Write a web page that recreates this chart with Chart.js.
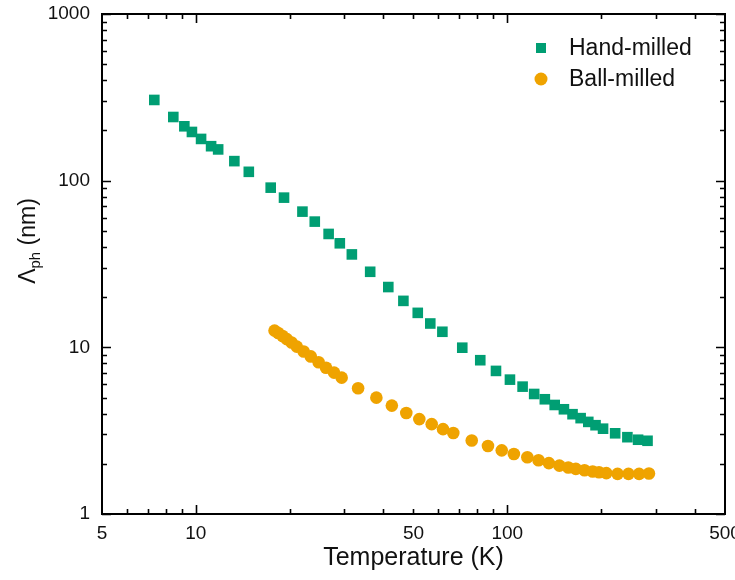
<!DOCTYPE html>
<html>
<head>
<meta charset="utf-8">
<script src="https://cdn.jsdelivr.net/npm/chart.js@4.4.1/dist/chart.umd.min.js"></script>
<style>
  html, body { margin: 0; padding: 0; background: #ffffff; }
  #wrap { width: 735px; height: 580px; }
</style>
</head>
<body>
<div id="wrap"><canvas id="c" width="735" height="580"></canvas></div>
<script>
// Phonon mean free path vs temperature for two milling routes
const handTemp = [7.36, 8.47, 9.19, 9.72, 10.4, 11.2, 11.8, 13.3, 14.8, 17.4,
  19.2, 22.0, 24.1, 26.7, 29.0, 31.7, 36.3, 41.5, 46.4, 51.6,
  56.6, 61.9, 71.7, 81.9, 92.0, 102, 112, 122, 132, 142,
  152, 162, 172, 182, 192, 203, 222, 243, 263, 282];
const handMfp = [305, 241, 212, 196, 178, 161, 154, 131, 113, 90.8,
  79.1, 65.2, 56.8, 47.9, 42.1, 36.1, 28.4, 23.0, 19.0, 16.1,
  13.9, 12.4, 9.95, 8.37, 7.22, 6.40, 5.81, 5.25, 4.88, 4.51,
  4.25, 3.97, 3.76, 3.57, 3.41, 3.25, 3.05, 2.89, 2.79, 2.75];

const ballTemp = [17.9, 18.4, 19.0, 19.6, 20.3, 21.1, 22.2, 23.4, 24.8, 26.2, 27.8, 29.4,
  33.2, 38.0, 42.6, 47.4, 52.2, 57.2, 62.2, 67.1,
  76.9, 86.7, 96.0, 105, 116, 126, 136, 147, 157, 166,
  177, 188, 197, 208, 226, 245, 265, 285];
const ballMfp = [12.6, 12.2, 11.7, 11.2, 10.7, 10.1, 9.45, 8.82, 8.14, 7.55, 7.05, 6.58,
  5.68, 4.99, 4.47, 4.04, 3.71, 3.46, 3.23, 3.06,
  2.76, 2.56, 2.41, 2.29, 2.19, 2.10, 2.02, 1.95, 1.90, 1.865,
  1.83, 1.80, 1.78, 1.76, 1.74, 1.74, 1.74, 1.75];

const seriesNames = ['Hand-milled', 'Ball-milled'];

// Axis ticks
const xLabelTicks = [5, 10, 50, 100, 500];
const xMajorTicks = [10, 100];
const xMinorTicks = [6, 7, 8, 9, 20, 30, 40, 50, 60, 70, 80, 90, 200, 300, 400];
const yLabelTicks = [1, 10, 100, 1000];
const yMinorTicks = [2, 3, 4, 5, 6, 7, 8, 9, 20, 30, 40, 50, 60, 70, 80, 90, 200, 300, 400, 500, 600, 700, 800, 900];

const GREEN = '#009E73';
const ORANGE = '#EFA300';
const FONT = "'Liberation Sans', Arial, sans-serif";

const toPoints = (xs, ys) => xs.map((x, i) => ({ x: x, y: ys[i] }));

// Closed frame with inward ticks on all four sides
const framePlugin = {
  id: 'frame',
  afterDraw(chart) {
    const ctx = chart.ctx;
    const a = chart.chartArea;
    const xs = chart.scales.x, ys = chart.scales.y;
    ctx.save();
    ctx.strokeStyle = '#000';
    ctx.lineWidth = 2;
    ctx.strokeRect(a.left, a.top, a.right - a.left, a.bottom - a.top);
    ctx.lineWidth = 1.6;
    ctx.beginPath();
    const xt = (v, len) => {
      const p = Math.round(xs.getPixelForValue(v)) + 0.5;
      ctx.moveTo(p, a.bottom); ctx.lineTo(p, a.bottom - len);
      ctx.moveTo(p, a.top); ctx.lineTo(p, a.top + len);
    };
    const yt = (v, len) => {
      const p = Math.round(ys.getPixelForValue(v)) + 0.5;
      ctx.moveTo(a.left, p); ctx.lineTo(a.left + len, p);
      ctx.moveTo(a.right, p); ctx.lineTo(a.right - len, p);
    };
    xMajorTicks.forEach(v => xt(v, 9));
    xMinorTicks.forEach(v => xt(v, 5));
    yLabelTicks.forEach(v => yt(v, 9));
    yMinorTicks.forEach(v => yt(v, 5));
    ctx.stroke();

    // Legend inside the plot
    const ds = chart.data.datasets;
    ctx.font = '23px ' + FONT;
    ctx.textBaseline = 'middle';
    ctx.textAlign = 'left';
    const lx = 541, ly = [48, 79];
    ds.forEach((d, i) => {
      ctx.fillStyle = d.backgroundColor;
      if (d.pointStyle === 'rect') {
        ctx.fillRect(lx - 5, ly[i] - 5, 10, 10);
      } else {
        ctx.beginPath();
        ctx.arc(lx, ly[i], 6.5, 0, Math.PI * 2);
        ctx.fill();
      }
      ctx.fillStyle = '#111';
      ctx.fillText(d.label, 569, ly[i] + 1);
    });

    // Y axis title with subscript
    ctx.save();
    ctx.translate(27, 241);
    ctx.rotate(-Math.PI / 2);
    ctx.fillStyle = '#111';
    ctx.textBaseline = 'alphabetic';
    const big = '23px ' + FONT, small = '15px ' + FONT;
    ctx.font = big; const w1 = ctx.measureText('\u039B').width;
    ctx.font = small; const w2 = ctx.measureText('ph').width;
    ctx.font = big; const w3 = ctx.measureText(' (nm)').width;
    let x0 = -(w1 + w2 + w3) / 2;
    const base = 8;
    ctx.font = big; ctx.fillText('\u039B', x0, base); x0 += w1;
    ctx.font = small; ctx.fillText('ph', x0, base + 5); x0 += w2;
    ctx.font = big; ctx.fillText(' (nm)', x0, base);
    ctx.restore();
    ctx.restore();
  }
};

new Chart(document.getElementById('c'), {
  type: 'scatter',
  data: {
    datasets: [
      {
        label: seriesNames[0],
        data: toPoints(handTemp, handMfp),
        pointStyle: 'rect',
        pointRadius: 7.5,
        pointHoverRadius: 7.5,
        backgroundColor: GREEN,
        borderColor: GREEN,
        borderWidth: 0
      },
      {
        label: seriesNames[1],
        data: toPoints(ballTemp, ballMfp),
        pointStyle: 'circle',
        pointRadius: 6.3,
        pointHoverRadius: 6.3,
        backgroundColor: ORANGE,
        borderColor: ORANGE,
        borderWidth: 0
      }
    ]
  },
  options: {
    responsive: false,
    animation: false,
    events: [],
    layout: { padding: { left: 0, right: 10, top: 14, bottom: 0 } },
    plugins: { legend: { display: false }, tooltip: { enabled: false } },
    scales: {
      x: {
        type: 'logarithmic',
        min: 5, max: 500,
        grid: { display: false, drawTicks: false },
        border: { display: false },
        afterBuildTicks: s => { s.ticks = xLabelTicks.map(v => ({ value: v, major: true })); },
        afterFit: s => { s.height = 66; s.paddingLeft = 0; s.paddingRight = 0; },
        ticks: {
          autoSkip: false, maxRotation: 0, padding: 8,
          color: '#111', font: { family: FONT, size: 19 },
          callback: v => String(v)
        },
        title: {
          display: true, text: 'Temperature (K)', color: '#111',
          font: { family: FONT, size: 25 }, padding: { top: 0, bottom: 7 }
        }
      },
      y: {
        type: 'logarithmic',
        min: 1, max: 1000,
        grid: { display: false, drawTicks: false },
        border: { display: false },
        afterBuildTicks: s => { s.ticks = yLabelTicks.map(v => ({ value: v, major: true })); },
        afterFit: s => { s.width = 102; s.paddingTop = 0; s.paddingBottom = 0; },
        ticks: {
          padding: 12,
          color: '#111', font: { family: FONT, size: 19 },
          callback: v => String(v)
        }
      }
    }
  },
  plugins: [framePlugin]
});
</script>
</body>
</html>
